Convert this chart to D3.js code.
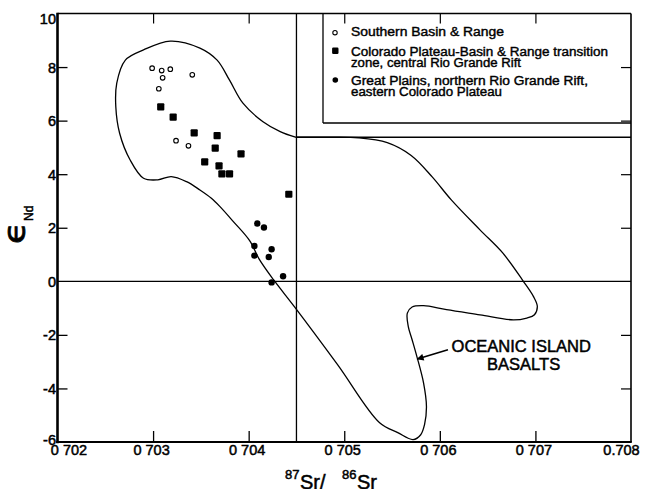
<!DOCTYPE html>
<html>
<head>
<meta charset="utf-8">
<script src="https://cdn.jsdelivr.net/npm/d3@7"></script>
<style>
  html, body { margin: 0; padding: 0; background: #fff; }
  svg { display: block; }
  text { font-family: "Liberation Sans", Arial, Helvetica, sans-serif; fill: #000; }
</style>
</head>
<body>
<svg id="chart" width="645" height="489"></svg>
<script>
// Axis ticks and labels
const xTicks = [0.702, 0.703, 0.704, 0.705, 0.706, 0.707, 0.708];
const xTickLabels = ["0 702", "0 703", "0 704", "0 705", "0 706", "0 707", "0.708"];
const yTicks = [-6, -4, -2, 0, 2, 4, 6, 8, 10];
const yTickLabels = ["-6", "-4", "-2", "0", "2", "4", "6", "8", "10"];

// Sample groups: [87Sr/86Sr, eNd]
const southernBasinRange = [
  [0.70299, 7.96], [0.70309, 7.87], [0.70318, 7.92], [0.70310, 7.60],
  [0.70341, 7.71], [0.70306, 7.19], [0.70324, 5.25], [0.70337, 5.06]
];
const coloradoTransition = [
  [0.70308, 6.51], [0.70321, 6.13], [0.70343, 5.54], [0.70367, 5.44],
  [0.70365, 4.97], [0.70354, 4.46], [0.70392, 4.76], [0.70369, 4.31],
  [0.70372, 4.01], [0.70380, 4.01], [0.70442, 3.25]
];
const greatPlains = [
  [0.70409, 2.16], [0.70416, 2.01], [0.70406, 1.32], [0.70424, 1.20],
  [0.70406, 0.96], [0.70421, 0.91], [0.70436, 0.19], [0.70424, -0.04]
];

// Legend entries
const legendLabels = [
  ["Southern Basin & Range"],
  ["Colorado Plateau-Basin & Range transition", "zone, central Rio Grande Rift"],
  ["Great Plains, northern Rio Grande Rift,", "eastern Colorado Plateau"]
];

// Oceanic island basalt field outline, traced clockwise from the
// point where it meets the bulk-earth line
const oibField = [
  [0.70449, 5.38], [0.70480, 5.38], [0.70515, 5.36], [0.70545, 5.18],
  [0.70570, 4.70], [0.70592, 3.90], [0.70612, 3.04], [0.70642, 1.92],
  [0.70666, 1.05], [0.70687, 0.02], [0.70698, -0.57], [0.70702, -0.94],
  [0.70699, -1.25], [0.70691, -1.37], [0.70677, -1.44], [0.70642, -1.25],
  [0.70607, -1.06], [0.70583, -0.91], [0.70571, -0.96], [0.70566, -1.19],
  [0.70567, -1.69], [0.70571, -2.18], [0.70576, -2.81], [0.70583, -3.80],
  [0.70586, -4.67], [0.70584, -5.35], [0.70580, -5.73], [0.70572, -5.91],
  [0.70556, -5.65], [0.70537, -5.28], [0.70493, -3.11], [0.70449, -1.00],
  [0.70426, 0.06], [0.70411, 0.83], [0.70401, 1.52], [0.70384, 2.23],
  [0.70370, 2.79], [0.70361, 3.10], [0.70349, 3.41], [0.70335, 3.72],
  [0.70319, 3.91], [0.70305, 3.79], [0.70290, 3.85], [0.70276, 4.53],
  [0.70265, 5.53], [0.70261, 6.52], [0.70262, 7.40], [0.70271, 8.26],
  [0.70290, 8.64], [0.70318, 8.97], [0.70349, 8.71], [0.70367, 8.26],
  [0.70380, 7.51], [0.70394, 6.65], [0.70415, 5.96], [0.70433, 5.59],
  [0.70449, 5.38]
];

// Reference lines: bulk-earth Sr, CHUR eNd, and the upper shelf line
const bulkEarthSr = 0.7045;
const churNd = 0;
const shelfNd = 5.38;

// OIB label and its arrow
const oibLabelLines = ["OCEANIC ISLAND", "BASALTS"];
const oibLabelAt = [0.706123, -2.657];
const oibArrow = [[0.706085, -2.556], [0.705764, -2.903]];

const svg = d3.select("#chart");
svg.append("rect").attr("width", 645).attr("height", 489).attr("fill", "#fff");

const x = d3.scaleLinear().domain([0.702, 0.708]).range([57.5, 631]);
const y = d3.scaleLinear().domain([-6, 10]).range([442, 13.5]);

function ink(sel, w) { return sel.attr("stroke", "#000").attr("stroke-width", w || 0.5); }

// Bottom axis with inward ticks
const xAxisG = svg.append("g")
  .attr("transform", `translate(0,${y(-6)})`)
  .call(d3.axisBottom(x).tickValues(xTicks)
    .tickFormat((d, i) => xTickLabels[i]).tickSize(-11).tickPadding(3));
xAxisG.select(".domain").remove();
xAxisG.selectAll(".tick line").attr("stroke", "#000").attr("stroke-width", 1.3)
  .filter((d, i) => i === 0 || i === xTicks.length - 1).remove();
xAxisG.selectAll(".tick text")
  .attr("font-size", 14.5).attr("font-family", null)
  .attr("dx", (d, i) => i === 0 ? 11 : (i === xTicks.length - 1 ? -10 : -2))
  .call(ink);

// Top axis ticks (no labels)
const xTopG = svg.append("g")
  .attr("transform", `translate(0,${y(10)})`)
  .call(d3.axisTop(x).tickValues(xTicks.slice(1, -1)).tickFormat("").tickSize(-10));
xTopG.select(".domain").remove();
xTopG.selectAll(".tick line").attr("stroke", "#000").attr("stroke-width", 1.2);

// Left axis with inward ticks
const yAxisG = svg.append("g")
  .attr("transform", `translate(${x(0.702)},0)`)
  .call(d3.axisLeft(y).tickValues(yTicks)
    .tickFormat((d, i) => yTickLabels[i]).tickSize(-10).tickPadding(1.5));
yAxisG.select(".domain").remove();
yAxisG.selectAll(".tick line").attr("stroke", "#000").attr("stroke-width", 1.3)
  .filter(d => d === -6 || d === 10 || d === 0).remove();
yAxisG.selectAll(".tick text")
  .attr("font-size", 14.5).attr("font-family", null)
  .attr("dy", d => d === 10 ? "0.72em" : (d === -6 ? "0.2em" : "0.35em"))
  .call(ink);

// Right axis ticks
const yRightG = svg.append("g")
  .attr("transform", `translate(${x(0.708)},0)`)
  .call(d3.axisRight(y).tickValues(yTicks.filter(d => d > -6 && d < 10 && d !== 0))
    .tickFormat("").tickSize(-10));
yRightG.select(".domain").remove();
yRightG.selectAll(".tick line").attr("stroke", "#000").attr("stroke-width", 1.2);

// Reference lines
svg.append("line")
  .attr("x1", x(0.702)).attr("x2", x(0.708))
  .attr("y1", y(churNd)).attr("y2", y(churNd))
  .attr("stroke", "#000").attr("stroke-width", 1.3);
svg.append("line")
  .attr("x1", x(bulkEarthSr)).attr("x2", x(bulkEarthSr))
  .attr("y1", y(10)).attr("y2", y(-6))
  .attr("stroke", "#000").attr("stroke-width", 1.3);
svg.append("line")
  .attr("x1", x(bulkEarthSr)).attr("x2", x(0.708))
  .attr("y1", y(shelfNd)).attr("y2", y(shelfNd))
  .attr("stroke", "#000").attr("stroke-width", 1.3);

// Plot frame: heavier left and bottom edges
svg.append("line").attr("x1", x(0.702)).attr("x2", x(0.708)).attr("y1", y(10)).attr("y2", y(10))
  .attr("stroke", "#000").attr("stroke-width", 1.4);
svg.append("line").attr("x1", x(0.708)).attr("x2", x(0.708)).attr("y1", y(10)).attr("y2", y(-6))
  .attr("stroke", "#000").attr("stroke-width", 1.6);
svg.append("line").attr("x1", x(0.702)).attr("x2", x(0.702)).attr("y1", y(10) - 0.7).attr("y2", y(-6) + 1.2)
  .attr("stroke", "#000").attr("stroke-width", 2.6);
svg.append("line").attr("x1", x(0.702) - 1.3).attr("x2", x(0.708) + 0.8).attr("y1", y(-6)).attr("y2", y(-6))
  .attr("stroke", "#000").attr("stroke-width", 2.2);

// OIB field outline
const fieldLine = d3.line()
  .x(d => x(d[0])).y(d => y(d[1]))
  .curve(d3.curveCatmullRom.alpha(0.5));
svg.append("path")
  .attr("d", fieldLine(oibField))
  .attr("fill", "none").attr("stroke", "#000").attr("stroke-width", 1.3)
  .attr("stroke-linejoin", "round");

// Data points
const pts = svg.append("g");
pts.selectAll("circle.sbr").data(southernBasinRange).join("circle")
  .attr("class", "sbr")
  .attr("cx", d => x(d[0])).attr("cy", d => y(d[1])).attr("r", 2.3)
  .attr("fill", "#fff").attr("stroke", "#000").attr("stroke-width", 1.1);
pts.selectAll("rect.cp").data(coloradoTransition).join("rect")
  .attr("class", "cp")
  .attr("x", d => x(d[0]) - 3.6).attr("y", d => y(d[1]) - 3.6)
  .attr("width", 7.2).attr("height", 7.2).attr("rx", 1)
  .attr("fill", "#000");
pts.selectAll("circle.gp").data(greatPlains).join("circle")
  .attr("class", "gp")
  .attr("cx", d => x(d[0])).attr("cy", d => y(d[1])).attr("r", 3.2)
  .attr("fill", "#000");

// Legend box
const legend = svg.append("g");
legend.append("line").attr("x1", 323).attr("x2", 323).attr("y1", y(10)).attr("y2", 123)
  .attr("stroke", "#000").attr("stroke-width", 1.3);
legend.append("line").attr("x1", 323).attr("x2", x(0.708)).attr("y1", 123).attr("y2", 123)
  .attr("stroke", "#000").attr("stroke-width", 1.3);

const legendRowY = [32.7, 50.7, 80];
const legendTextBase = [[36], [56, 66.5], [85, 96]];
const legendWidths = [[153], [257, 170], [237, 151]];
legend.append("circle").attr("cx", 335).attr("cy", legendRowY[0]).attr("r", 2.2)
  .attr("fill", "#fff").attr("stroke", "#000").attr("stroke-width", 1.1);
legend.append("rect").attr("x", 335.3 - 3.2).attr("y", legendRowY[1] - 3.2)
  .attr("width", 6.4).attr("height", 6.4).attr("rx", 1.2).attr("fill", "#000");
legend.append("circle").attr("cx", 335.3).attr("cy", legendRowY[2]).attr("r", 2.8).attr("fill", "#000");
legendLabels.forEach((lines, i) => {
  lines.forEach((t, j) => {
    legend.append("text")
      .attr("x", 351).attr("y", legendTextBase[i][j])
      .attr("font-size", 12.3)
      .attr("textLength", legendWidths[i][j]).attr("lengthAdjust", "spacingAndGlyphs")
      .text(t).call(ink, 0.4);
  });
});

// OIB annotation
const lab = svg.append("g");
lab.append("text").attr("x", x(oibLabelAt[0])).attr("y", y(oibLabelAt[1]))
  .attr("font-size", 16.5).text(oibLabelLines[0]).call(ink);
lab.append("text").attr("x", x(oibLabelAt[0]) + 35.5).attr("y", y(oibLabelAt[1]) + 18)
  .attr("font-size", 16.5).text(oibLabelLines[1]).call(ink);
svg.append("defs").append("marker")
  .attr("id", "head").attr("viewBox", "0 0 10 10").attr("refX", 9).attr("refY", 5)
  .attr("markerWidth", 9).attr("markerHeight", 7).attr("markerUnits", "userSpaceOnUse")
  .attr("orient", "auto")
  .append("path").attr("d", "M0,0 L10,5 L0,10 Z").attr("fill", "#000");
svg.append("line")
  .attr("x1", x(oibArrow[0][0])).attr("y1", y(oibArrow[0][1]))
  .attr("x2", x(oibArrow[1][0])).attr("y2", y(oibArrow[1][1]))
  .attr("stroke", "#000").attr("stroke-width", 1.6).attr("marker-end", "url(#head)");

// Axis titles
const xt = svg.append("text").attr("y", 489).call(ink);
xt.append("tspan").attr("x", 285).attr("dy", -10).attr("font-size", 13).text("87");
xt.append("tspan").attr("x", 300).attr("dy", 10).attr("font-size", 20).text("Sr/");
xt.append("tspan").attr("x", 342).attr("dy", -10).attr("font-size", 13).text("86");
xt.append("tspan").attr("x", 357).attr("dy", 10).attr("font-size", 20).text("Sr");

const yt = svg.append("text").attr("transform", "translate(25,244) rotate(-90)").call(ink, 0.8);
yt.append("tspan").attr("x", 0).attr("y", 0).attr("font-size", 30)
  .attr("font-family", "DejaVu Sans").attr("textLength", 22).attr("lengthAdjust", "spacingAndGlyphs")
  .text("ϵ");
yt.append("tspan").attr("x", 23).attr("dy", 8).attr("font-size", 12).attr("stroke-width", 0.5).text("Nd");
</script>
</body>
</html>
